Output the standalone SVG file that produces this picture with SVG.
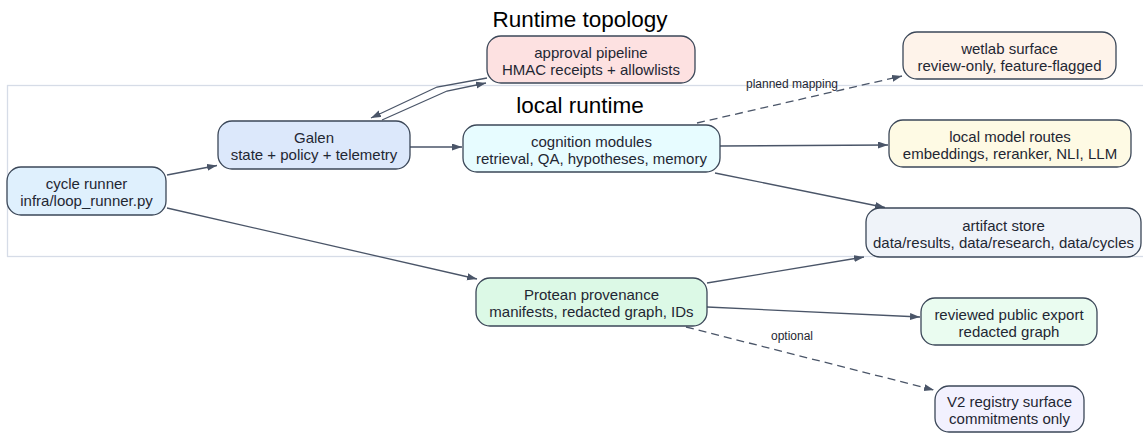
<svg xmlns="http://www.w3.org/2000/svg" width="1143" height="433" viewBox="0 0 1143 433">
<defs>
<marker id="arr" markerUnits="userSpaceOnUse" markerWidth="11" markerHeight="8" refX="10" refY="3.5" orient="auto">
<path d="M0,0 L10,3.5 L0,7 z" fill="#4a5568"/>
</marker>
<style>
.node rect{stroke:#3b4758;stroke-width:1.3}
.node text{font-family:"Liberation Sans",Arial,sans-serif;font-size:15px;fill:#1f2733;text-anchor:middle}
.edge{fill:none;stroke:#4a5568;stroke-width:1.3;marker-end:url(#arr)}
.dash{stroke-dasharray:8,5}
.elabel{font-family:"Liberation Sans",Arial,sans-serif;font-size:12px;fill:#1f2733;text-anchor:middle}
.title{font-family:"Liberation Sans",Arial,sans-serif;font-size:22.5px;fill:#000;text-anchor:middle}
</style>
</defs>
<rect width="1143" height="433" fill="#ffffff"/>
<text class="title" x="580" y="27">Runtime topology</text>
<g id="cluster_local">
<rect x="7.5" y="85.5" width="1150" height="171" fill="none" stroke="#d6dce7" stroke-width="1.3"/>
<text class="title" x="580" y="113">local runtime</text>
</g>
<g id="connectors">
<path class="edge" d="M167,175 L217,165.5"/>
<path class="edge" d="M167,208 L477,279"/>
<path class="edge" d="M487,78 L437,87 L371,118"/>
<path class="edge" d="M382,120 L447,91 L486,83"/>
<path class="edge" d="M410,147 L462,147"/>
<path class="edge" d="M720,146 L888,145"/>
<path class="edge dash" d="M697,123 L902,76"/>
<text class="elabel" x="792" y="88">planned mapping</text>
<path class="edge" d="M715,173 L885,207.5"/>
<path class="edge" d="M707,283 L864,257"/>
<path class="edge" d="M707,307 L920,317"/>
<path class="edge dash" d="M686,327 L934,390"/>
<text class="elabel" x="792" y="340">optional</text>
</g>
<g id="cycle_runner" class="node">
<rect x="7" y="167" width="159" height="48" rx="14" fill="#dff0fd"/>
<text x="86.5" y="189">cycle runner</text>
<text x="86.5" y="206">infra/loop_runner.py</text>
</g>
<g id="galen" class="node">
<rect x="218" y="121" width="192" height="48" rx="14" fill="#dce8fb"/>
<text x="314" y="143">Galen</text>
<text x="314" y="160">state + policy + telemetry</text>
</g>
<g id="approval_pipeline" class="node">
<rect x="487" y="36" width="208" height="47" rx="14" fill="#fde1e1"/>
<text x="591" y="57.5">approval pipeline</text>
<text x="591" y="74.5">HMAC receipts + allowlists</text>
</g>
<g id="cognition_modules" class="node">
<rect x="463" y="125" width="257" height="47" rx="14" fill="#e7fcff"/>
<text x="591.5" y="146.5">cognition modules</text>
<text x="591.5" y="163.5">retrieval, QA, hypotheses, memory</text>
</g>
<g id="wetlab_surface" class="node">
<rect x="903" y="32" width="213" height="47" rx="14" fill="#fef3ea"/>
<text x="1009.5" y="53.5">wetlab surface</text>
<text x="1009.5" y="70.5">review-only, feature-flagged</text>
</g>
<g id="local_model_routes" class="node">
<rect x="889" y="120" width="242" height="47" rx="14" fill="#fefae4"/>
<text x="1010" y="141.5">local model routes</text>
<text x="1010" y="158.5">embeddings, reranker, NLI, LLM</text>
</g>
<g id="artifact_store" class="node">
<rect x="866" y="208" width="275" height="49" rx="14" fill="#eff3f9"/>
<text x="1003.5" y="230.5">artifact store</text>
<text x="1003.5" y="247.5">data/results, data/research, data/cycles</text>
</g>
<g id="protean_provenance" class="node">
<rect x="476" y="278" width="231" height="48" rx="14" fill="#dcf9e6"/>
<text x="591.5" y="300">Protean provenance</text>
<text x="591.5" y="317">manifests, redacted graph, IDs</text>
</g>
<g id="reviewed_export" class="node">
<rect x="921" y="298" width="176" height="47" rx="14" fill="#eafcf0"/>
<text x="1009" y="319.5">reviewed public export</text>
<text x="1009" y="336.5">redacted graph</text>
</g>
<g id="v2_registry" class="node">
<rect x="935" y="386" width="149" height="46" rx="14" fill="#f2f1fe"/>
<text x="1009.5" y="407">V2 registry surface</text>
<text x="1009.5" y="424">commitments only</text>
</g>
</svg>
